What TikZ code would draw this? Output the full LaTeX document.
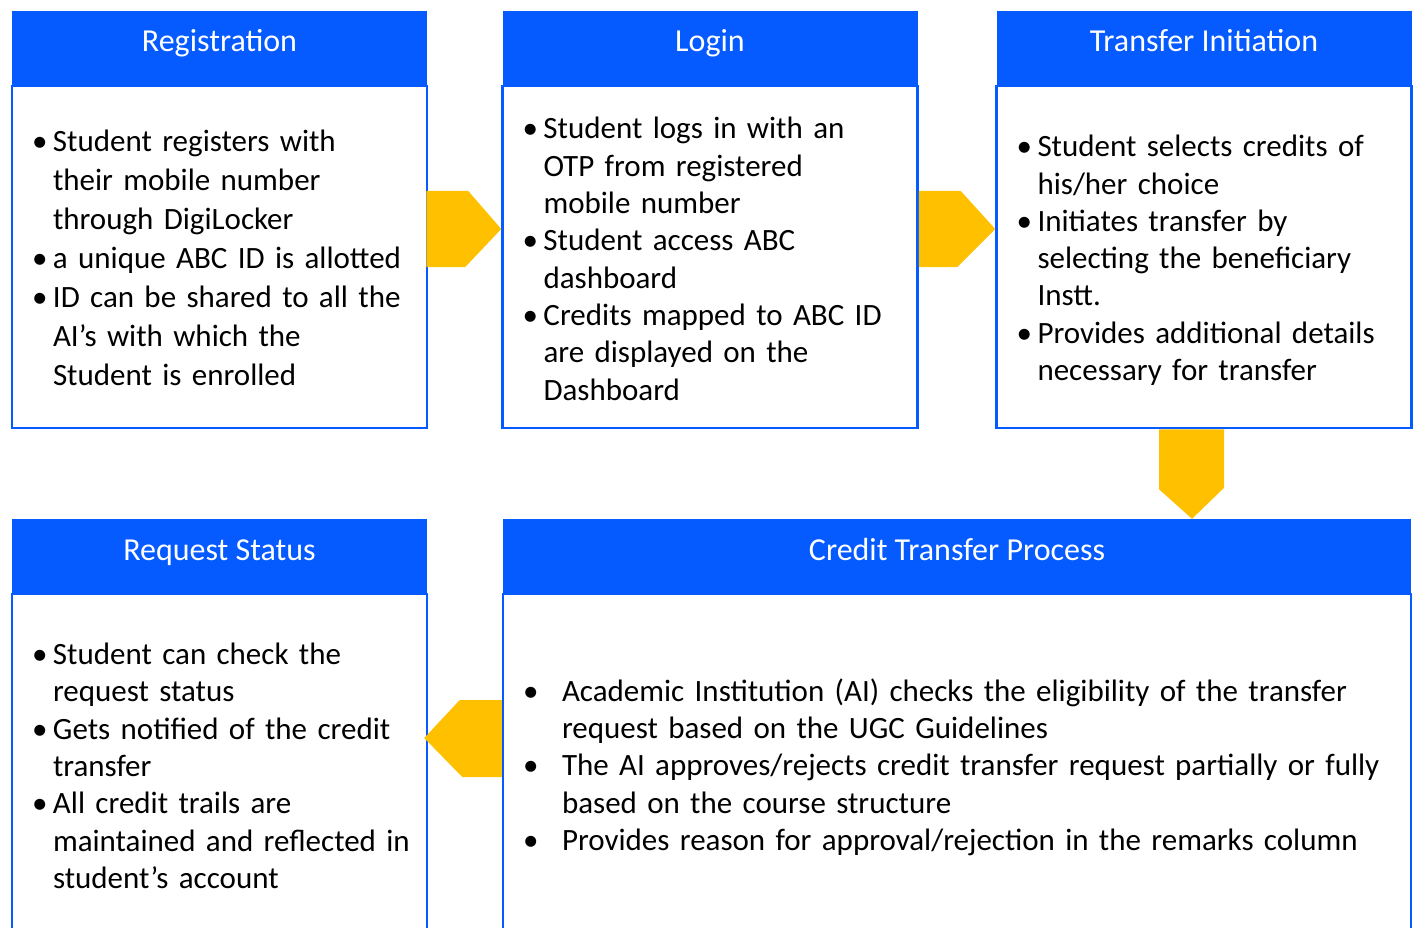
\documentclass[tikz,border=0pt]{standalone}
\usepackage{fontspec}
\setmainfont{Carlito}
\usetikzlibrary{positioning}
\definecolor{boxblue}{RGB}{5,91,255}
\definecolor{arrowgold}{RGB}{255,192,0}
\newcommand{\bitem}[2][20pt]{\par\rightskip=-20pt plus 1fil\noindent\hangindent=#1\hangafter=1\makebox[#1][l]{\hspace{-1pt}\textbullet}#2\par}

\begin{document}
\begin{tikzpicture}[x=1pt, y=-1pt,
  head/.style={rectangle, fill=boxblue, text=white, minimum width=415pt, minimum height=75pt, inner sep=0pt, font=\fontsize{32}{38}\selectfont, text height=22pt, text depth=15pt},
  body/.style={rectangle, draw=boxblue, line width=2.5pt, minimum width=415pt, minimum height=342pt, inner xsep=21pt, inner ysep=0pt, text width=373pt, align=left, font=\fontsize{31}{37.3}\selectfont},
  pad/.style={execute at end node={\kern#1}},
  chev/.style={fill=arrowgold}
]
\useasboundingbox (0,0) rectangle (1416,928);

% top row
\node[head] (reg) at (219.5,48.5) {Registration};
\node[body, pad=16pt, font=\fontsize{31}{39}\selectfont] (regbox) at (219.5,257) {\bitem{Student registers with\newline their mobile number\newline through DigiLocker}\bitem{a unique ABC ID is allotted}\bitem{ID can be shared to all the\newline AI’s with which the\newline Student is enrolled}};

\node[head] (login) at (710,48.5) {Login};
\node[body, pad=12pt] (loginbox) at (710,257) {\bitem{Student logs in with an\newline OTP from registered\newline mobile number}\bitem{Student access ABC\newline dashboard}\bitem{Credits mapped to ABC ID\newline are displayed on the\newline Dashboard}};

\node[head] (init) at (1204,48.5) {Transfer Initiation};
\node[body, pad=9pt] (initbox) at (1204,257) {\bitem{Student selects credits of\newline his/her choice}\bitem{Initiates transfer by\newline selecting the beneficiary\newline Instt.}\bitem{Provides additional details\newline necessary for transfer}};

% bottom row
\node[head] (status) at (219.5,556.5) {Request Status};
\node[body, pad=14pt] (statusbox) at (219.5,765) {\bitem{Student can check the\newline request status}\bitem{Gets notified of the credit\newline transfer}\bitem{All credit trails are\newline maintained and reflected in\newline student’s account}};

\node[head, minimum width=908pt] (process) at (957,556.5) {Credit Transfer Process};
\node[body, pad=10pt, minimum width=908pt, text width=866pt] (processbox) at (957,765) {\bitem[38pt]{Academic Institution (AI) checks the eligibility of the transfer\newline request based on the UGC Guidelines}\bitem[38pt]{The AI approves/rejects credit transfer request partially or fully\newline based on the course structure}\bitem[38pt]{Provides reason for approval/rejection in the remarks column}};

% block arrows
\fill[chev] ([yshift=66pt,xshift=-2pt]regbox.east) -- ++(42,0) -- ([yshift=28pt]loginbox.west) -- ++(-36,38) -- ([yshift=-10pt,xshift=-2pt]regbox.east) -- cycle;
\fill[chev] ([yshift=66pt]loginbox.east) -- ++(42,0) -- ([yshift=28pt]initbox.west) -- ++(-38,38) -- ([yshift=-10pt]loginbox.east) -- cycle;
\fill[chev] ([xshift=-45pt]initbox.south) -- ++(0,60) -- ([xshift=235pt]process.north) -- ++(32,-31) -- ([xshift=20pt]initbox.south) -- cycle;
\fill[chev] ([yshift=65pt]processbox.west) -- ++(-42,0) -- ([yshift=27pt,xshift=-4pt]statusbox.east) -- ++(38,39) -- ([yshift=-12pt]processbox.west) -- cycle;

\end{tikzpicture}
\end{document}
